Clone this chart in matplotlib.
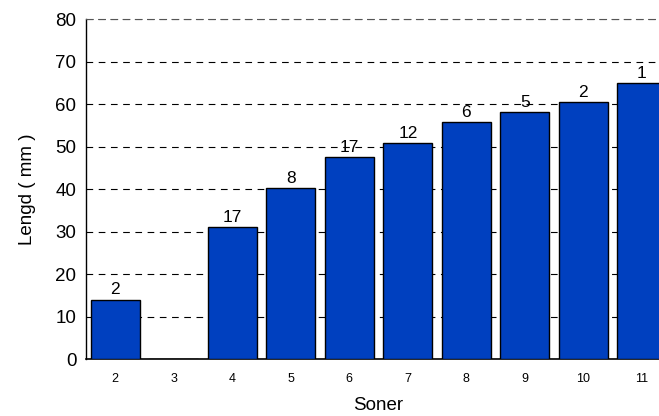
import matplotlib.pyplot as plt
import numpy as np

plt.rcParams['font.family'] = ['Liberation Sans', 'DejaVu Sans']

# soner og gjennomsnittleg lengd per sone
soner = [2, 3, 4, 5, 6, 7, 8, 9, 10, 11]
lengd = [14, 0, 31, 40.2, 47.5, 50.8, 55.8, 58.1, 60.4, 65]
antal = ['2', '', '17', '8', '17', '12', '6', '5', '2', '1']

fig = plt.figure(figsize=(6.59, 4.16), dpi=100)
ax = fig.add_axes([0.1305, 0.137, 0.888, 0.817])

x = np.arange(len(soner))
bars = ax.bar(x, lengd, width=0.84, color='#0040BF', edgecolor='black',
              linewidth=1, zorder=3)

for b, n in zip(bars, antal):
    if n:
        ax.text(b.get_x() + b.get_width() / 2, b.get_height() + 0.5, n,
                ha='center', va='bottom', fontsize=12.5, zorder=4)

ax.set_xlim(-0.5, len(soner) - 0.5)
ax.set_ylim(0, 80)
ax.set_yticks(range(0, 81, 10))
ax.set_xticks(x)
ax.set_xticklabels([str(s) for s in soner], fontsize=9)
ax.tick_params(axis='y', labelsize=13.5, length=0, pad=7)
ax.tick_params(axis='x', length=0, pad=10)

ax.yaxis.grid(True, linestyle=(0, (6, 5)), color='black', linewidth=0.8, zorder=0)
ax.set_axisbelow(True)

ax.spines['top'].set_linestyle((0, (6, 5)))
ax.spines['top'].set_color('#555555')
ax.spines['right'].set_visible(False)
ax.spines['left'].set_linewidth(1)
ax.spines['bottom'].set_linewidth(1.2)

ax.set_ylabel('Lengd ( mm )', fontsize=13.5, labelpad=14)
ax.set_xlabel('Soner', fontsize=13.5, labelpad=9)

fig.savefig('out.png', dpi=100)
